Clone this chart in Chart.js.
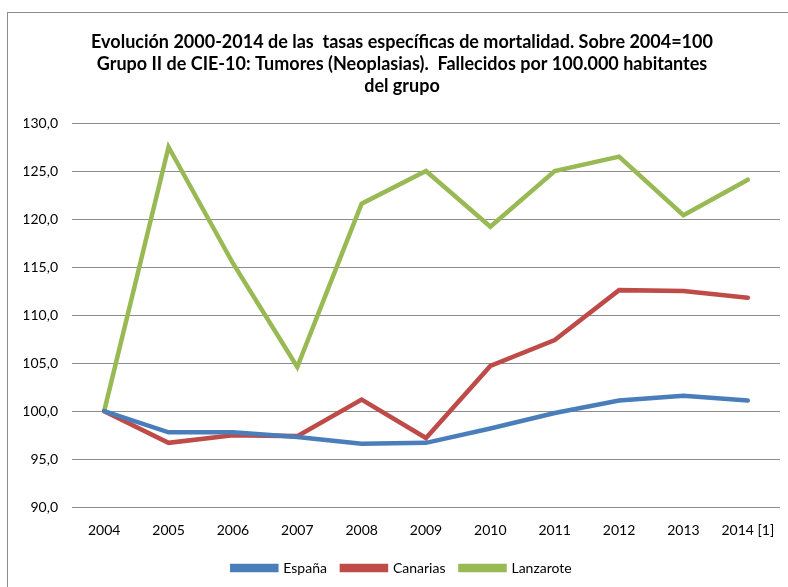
<!DOCTYPE html>
<html>
<head>
<meta charset="utf-8">
<script src="https://cdn.jsdelivr.net/npm/chart.js@4"></script>
<style>
  html, body { margin: 0; padding: 0; background: #fff; overflow: hidden; }
  #frame { position: absolute; left: 7px; top: 12px; width: 800px; height: 600px; border: 1px solid #8c8c8c; box-sizing: border-box; }
  #wrap { position: absolute; left: 0; top: 0; width: 788px; height: 587px; }
</style>
</head>
<body>
<div id="frame"></div>
<div id="wrap"><canvas id="c" width="788" height="587"></canvas></div>
<script>
const categories = ['2004','2005','2006','2007','2008','2009','2010','2011','2012','2013','2014 [1]'];
const espana    = [100, 97.8, 97.8, 97.3, 96.6, 96.7, 98.2, 99.8, 101.1, 101.6, 101.1];
const canarias  = [100, 96.7, 97.5, 97.4, 101.2, 97.2, 104.7, 107.4, 112.6, 112.5, 111.8];
const lanzarote = [100, 127.5, 115.4, 104.6, 121.6, 125.0, 119.2, 125.0, 126.5, 120.4, 124.1];
const yTicks = { min: 90, max: 130, step: 5 };
const titleLines = [
  'Evolución 2000-2014 de las  tasas específicas de mortalidad. Sobre 2004=100',
  'Grupo II de CIE-10: Tumores (Neoplasias).  Fallecidos por 100.000 habitantes',
  'del grupo'
];

const FONT = 'Lato, "Open Sans", sans-serif';

new Chart(document.getElementById('c'), {
  type: 'line',
  data: {
    labels: categories,
    datasets: [
      { label: 'España', data: espana, borderColor: '#4a7ebb', backgroundColor: '#4a7ebb' },
      { label: 'Canarias', data: canarias, borderColor: '#be4b48', backgroundColor: '#be4b48' },
      { label: 'Lanzarote', data: lanzarote, borderColor: '#98b954', backgroundColor: '#98b954' }
    ].map(d => Object.assign(d, { borderWidth: 4.5, pointRadius: 0, tension: 0, fill: false, borderCapStyle: 'round' }))
  },
  options: {
    responsive: false,
    animation: false,
    devicePixelRatio: 1,
    layout: { padding: { left: 24, right: 8, top: 0, bottom: 2 } },
    plugins: {
      title: {
        display: true,
        text: titleLines,
        color: '#000',
        font: { family: FONT, size: 18, weight: 'bold', lineHeight: 22 / 18 },
        padding: { top: 31, bottom: 26 }
      },
      legend: {
        position: 'bottom',
        labels: {
          color: '#000',
          font: { family: FONT, size: 14 },
          boxWidth: 44, boxHeight: 4,
          padding: 15
        }
      },
      tooltip: { enabled: false }
    },
    scales: {
      x: {
        offset: true,
        grid: { display: false },
        border: { display: false },
        ticks: { color: '#000', font: { family: FONT, size: 14 }, maxRotation: 0, padding: 7 }
      },
      y: {
        min: yTicks.min, max: yTicks.max,
        afterFit: s => { s.width = 48; },
        grid: { color: '#8c8c8c', lineWidth: 1, drawTicks: false },
        border: { display: false },
        ticks: {
          stepSize: yTicks.step,
          color: '#000',
          padding: 14,
          font: { family: FONT, size: 14 },
          callback: v => v.toFixed(1).replace('.', ',')
        }
      }
    }
  }
});
</script>
</body>
</html>
